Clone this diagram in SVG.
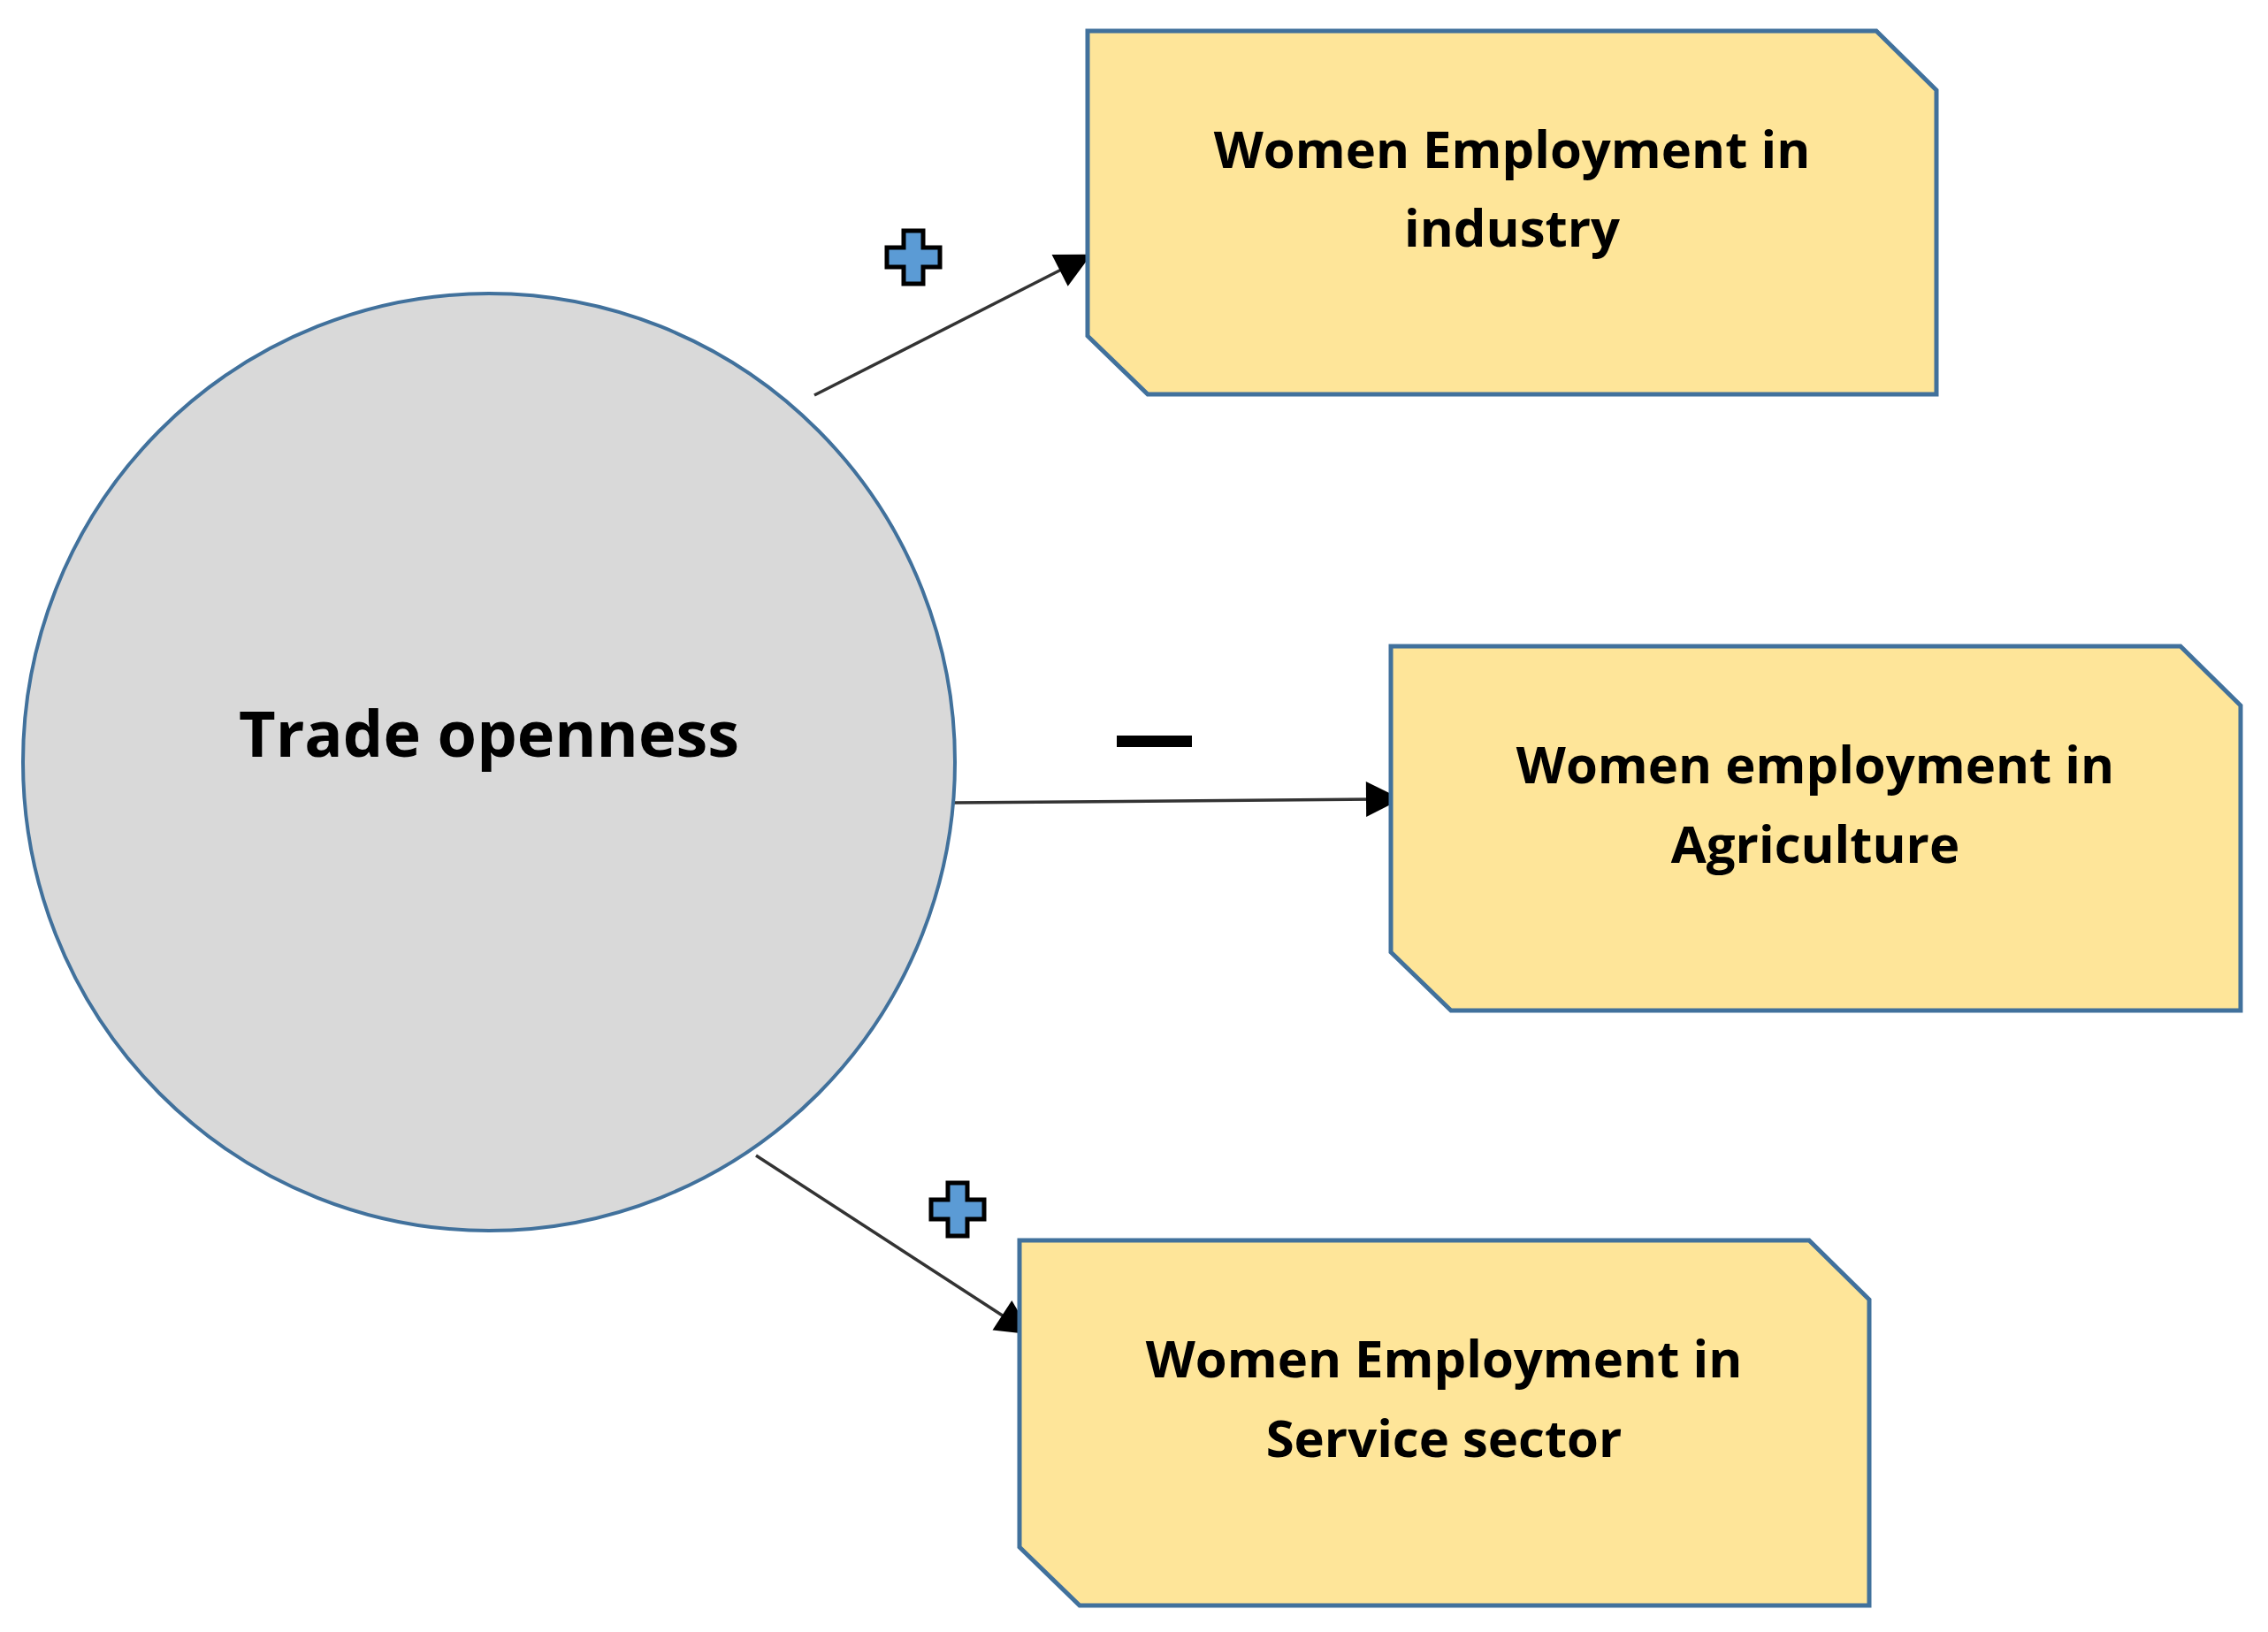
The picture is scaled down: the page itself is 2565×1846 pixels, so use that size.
<svg xmlns="http://www.w3.org/2000/svg" width="2565" height="1846" viewBox="0 0 2565 1846">
<style>
.box{fill:#fee599;stroke:#41719c;stroke-width:5}
.t{font-family:"Open Sans","Liberation Sans",sans-serif;font-weight:bold;font-size:58px;fill:#000;text-anchor:middle}
.c{stroke:#333;stroke-width:3.5;fill:none;marker-end:url(#ah)}
.plus{fill:#5b9bd5;stroke:#000;stroke-width:5}
</style>
<defs>
<marker id="ah" markerWidth="10" markerHeight="10" refX="9" refY="5" orient="auto" markerUnits="userSpaceOnUse" viewBox="0 0 10 10" style="overflow:visible">
<path d="M0,0 L10,5 L0,10 Z" fill="#000" transform="scale(4) translate(-1.5,-3.75)"/>
</marker>
<path id="p" d="M-11,-30 H11 V-11 H30 V11 H11 V30 H-11 V11 H-30 V-11 H-11 Z"/>
</defs>
<rect width="2565" height="1846" fill="#fff"/>
<g id="connectors">
<line class="c" x1="921" y1="447" x2="1212" y2="299"/>
<line class="c" x1="1077" y1="908" x2="1560" y2="904"/>
<line class="c" x1="855" y1="1307" x2="1146" y2="1496"/>
<use href="#p" class="plus" transform="translate(1033,291)"/>
<rect x="1263" y="832" width="85" height="13" fill="#000"/>
<use href="#p" class="plus" transform="translate(1083,1368)"/>
</g>
<g id="trade">
<ellipse cx="553" cy="862" rx="527" ry="530" fill="#d9d9d9" stroke="#41719c" stroke-width="4"/>
<text class="t" x="553" y="856" style="font-size:72px">Trade openness</text>
</g>
<g id="industry">
<path class="box" d="M1230,35 H2122 L2190,102 V446 H1298 L1230,380 Z"/>
<text class="t" x="1710" y="190">Women Employment in</text>
<text class="t" x="1710" y="279">industry</text>
</g>
<g id="agriculture">
<path class="box" d="M1573,731 H2466 L2534,798 V1143 H1641 L1573,1077 Z"/>
<text class="t" x="2053" y="886">Women employment in</text>
<text class="t" x="2053" y="976">Agriculture</text>
</g>
<g id="service">
<path class="box" d="M1153,1403 H2046 L2114,1470 V1816 H1221 L1153,1750 Z"/>
<text class="t" x="1633" y="1558">Women Employment in</text>
<text class="t" x="1633" y="1648">Service sector</text>
</g>
</svg>
